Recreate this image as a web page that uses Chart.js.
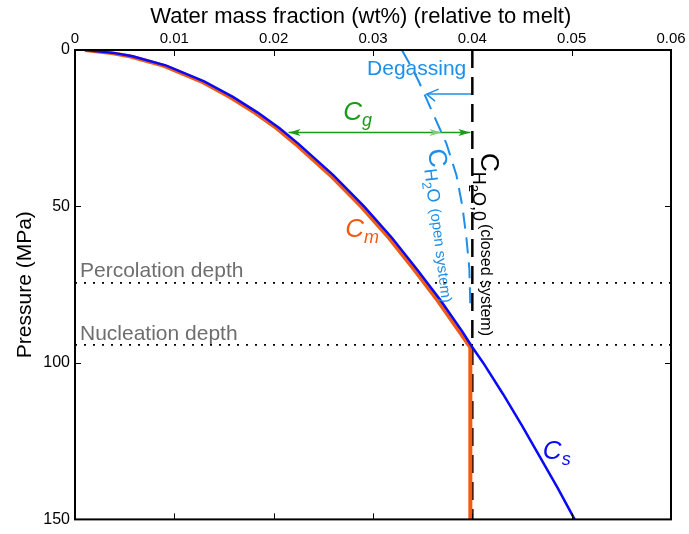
<!DOCTYPE html>
<html>
<head>
<meta charset="utf-8">
<script src="https://cdn.jsdelivr.net/npm/chart.js@4.4.1/dist/chart.umd.min.js"></script>
<style>
  html, body { margin: 0; padding: 0; background: #fff; }
  #wrap { width: 689px; height: 534px; }
</style>
</head>
<body>
<div id="wrap"><canvas id="chart" width="689" height="534"></canvas></div>
<script>
// Axis ticks
const xTickValues = [0, 0.01, 0.02, 0.03, 0.04, 0.05, 0.06];
const xTickLabels = ['0', '0.01', '0.02', '0.03', '0.04', '0.05', '0.06'];
const yTickValues = [0, 50, 100, 150];
const yTickLabels = ['0', '50', '100', '150'];

// Cs - solubility curve (pressure in MPa, water mass fraction)
const csPressure = [0, 1, 2, 5, 10, 15, 20, 25, 30, 40, 50, 60, 70, 80, 90, 95, 100, 110, 120, 130, 140, 150];
const csWater = [0.0010, 0.0040, 0.0058, 0.0092, 0.0130, 0.0159, 0.0184, 0.0206, 0.0225, 0.0260, 0.0291, 0.0319, 0.0344, 0.0368, 0.0390, 0.0400, 0.0411, 0.0431, 0.0450, 0.0468, 0.0486, 0.0503];

// Cm - melt water content
const cmPressure = [0, 1, 2, 5, 10, 15, 20, 25, 30, 40, 50, 60, 70, 80, 90, 95, 150];
const cmWater = [0.0010, 0.0037, 0.0055, 0.0089, 0.0127, 0.0156, 0.0181, 0.0203, 0.0222, 0.0257, 0.0288, 0.0316, 0.0341, 0.0365, 0.0387, 0.0398, 0.0398];

// C_H2O open system (dashed light blue)
const openPressure = [0, 5, 10, 15, 20, 25, 30, 40, 50, 60, 70, 82];
const openWater = [0.0329, 0.0338, 0.0346, 0.0353, 0.0360, 0.0367, 0.0374, 0.0384, 0.0390, 0.0394, 0.0397, 0.0398];

// C_H2O,0 closed system (dashed black)
const closedPressure = [0, 150];
const closedWater = [0.0400, 0.0400];

// Percolation and nucleation depths (MPa)
const depthPressure = [74.4, 94.2];
const depthWaterRange = [0, 0.06];

// Arrows
const cgArrowWater = [0.0215, 0.0398];
const cgArrowPressure = 26.4;
const cgInnerHead = 0.0369;
const degasArrowWater = [0.0400, 0.0354];
const degasArrowPressure = 14.1;

const FONT = '"Liberation Sans", Arial, sans-serif';
const BLUE = '#0a0af5';
const ORANGE = '#f05a14';
const LIGHTBLUE = '#1c8fea';
const GREEN = '#1a9a1a';
const GRAY = '#6e6e6e';

function toPoints(xs, ys) {
    return xs.map((x, i) => ({ x: x, y: Array.isArray(ys) ? ys[i] : ys }));
}

function lineSet(data, color, width, dash, order) {
    return {
        data: data,
        showLine: true,
        borderColor: color,
        borderWidth: width,
        borderDash: dash || [],
        pointRadius: 0,
        tension: 0,
        fill: false,
        order: order
    };
}

const datasets = [
    lineSet(toPoints(csWater, csPressure), BLUE, 2.5, null, 1),
    lineSet(toPoints(cmWater, cmPressure), ORANGE, 4, null, 2),
    lineSet(toPoints(closedWater, closedPressure), '#000', 2.5, [18, 9], 3),
    lineSet(toPoints(openWater, openPressure), LIGHTBLUE, 2, [16, 9], 4),
    lineSet(toPoints(depthWaterRange, depthPressure[0]), '#000', 1.8, [2, 7], 5),
    lineSet(toPoints(depthWaterRange, depthPressure[1]), '#000', 1.8, [2, 7], 6),
    lineSet(toPoints(cgArrowWater, cgArrowPressure), GREEN, 1.5, null, 7),
    lineSet(toPoints(degasArrowWater, degasArrowPressure), LIGHTBLUE, 1.5, null, 8)
];

function drawRich(ctx, x, y, angle, parts, color) {
    ctx.save();
    ctx.translate(x, y);
    ctx.rotate(angle * Math.PI / 180);
    ctx.fillStyle = color;
    ctx.textBaseline = 'alphabetic';
    ctx.textAlign = 'left';
    let cx = 0;
    parts.forEach(p => {
        ctx.font = (p.italic ? 'italic ' : '') + p.size + 'px ' + FONT;
        cx += (p.gap || 0);
        ctx.fillText(p.text, cx, p.dy || 0);
        cx += ctx.measureText(p.text).width;
    });
    ctx.restore();
}

function arrowHead(ctx, tipX, tipY, dir, color, filled) {
    // dir: +1 points right, -1 points left
    const len = 12, half = 3.5;
    ctx.save();
    ctx.fillStyle = color;
    ctx.strokeStyle = color;
    ctx.lineWidth = 1.5;
    ctx.beginPath();
    if (filled) {
        ctx.moveTo(tipX, tipY);
        ctx.lineTo(tipX - dir * len, tipY - half);
        ctx.lineTo(tipX - dir * (len - 3), tipY);
        ctx.lineTo(tipX - dir * len, tipY + half);
        ctx.closePath();
        ctx.fill();
    } else {
        ctx.moveTo(tipX - dir * len, tipY - 5);
        ctx.lineTo(tipX, tipY);
        ctx.lineTo(tipX - dir * len * 0.7, tipY + 7);
        ctx.stroke();
    }
    ctx.restore();
}

const annotations = {
    id: 'annotations',
    afterDatasetsDraw(chart) {
        const ctx = chart.ctx;
        const xs = chart.scales.x, ys = chart.scales.y;
        const px = v => xs.getPixelForValue(v);
        const py = v => ys.getPixelForValue(v);

        // arrow heads
        const ay = py(cgArrowPressure);
        arrowHead(ctx, px(cgArrowWater[0]), ay, -1, GREEN, true);
        arrowHead(ctx, px(cgArrowWater[1]), ay, 1, GREEN, true);
        arrowHead(ctx, px(cgInnerHead), ay, 1, '#7fcc7f', true);
        arrowHead(ctx, px(degasArrowWater[1]), py(degasArrowPressure), -1, LIGHTBLUE, false);

        // text labels
        drawRich(ctx, px(0.0294), py(8.0), 0, [{ text: 'Degassing', size: 21 }], LIGHTBLUE);
        drawRich(ctx, px(0.0005), py(72.4), 0, [{ text: 'Percolation depth', size: 21 }], GRAY);
        drawRich(ctx, px(0.0005), py(92.6), 0, [{ text: 'Nucleation depth', size: 21 }], GRAY);
        drawRich(ctx, px(0.0270), py(22.3), 0, [
            { text: 'C', size: 26, italic: true },
            { text: 'g', size: 18, italic: true, dy: 6 }
        ], GREEN);
        drawRich(ctx, px(0.0272), py(59.7), 0, [
            { text: 'C', size: 26, italic: true },
            { text: 'm', size: 18, italic: true, dy: 6 }
        ], ORANGE);
        drawRich(ctx, px(0.0471), py(130.8), 0, [
            { text: 'C', size: 26, italic: true },
            { text: 's', size: 18, italic: true, dy: 6 }
        ], BLUE);
        drawRich(ctx, px(0.03554), py(31.9), 83, [
            { text: 'C', size: 26 },
            { text: 'H', size: 18, dy: 6 },
            { text: '2', size: 13, dy: 10 },
            { text: 'O', size: 18, dy: 6 },
            { text: '(open system)', size: 15, dy: 5, gap: 6 }
        ], LIGHTBLUE);
        drawRich(ctx, px(0.04087), py(32.9), 90, [
            { text: 'C', size: 26 },
            { text: 'H', size: 18, dy: 8 },
            { text: '2', size: 13, dy: 12 },
            { text: 'O', size: 18, dy: 8 },
            { text: ',0', size: 18, dy: 8 },
            { text: '(closed system)', size: 16, dy: 0, gap: 3 }
        ], '#000');
    },
    afterDraw(chart) {
        const ctx = chart.ctx;
        const a = chart.chartArea;
        const xs = chart.scales.x, ys = chart.scales.y;
        ctx.save();
        ctx.strokeStyle = '#000';
        ctx.lineWidth = 2;
        ctx.strokeRect(a.left, a.top, a.right - a.left, a.bottom - a.top);
        ctx.lineWidth = 1;
        ctx.beginPath();
        xTickValues.slice(1, -1).forEach(v => {
            const x = Math.round(xs.getPixelForValue(v)) + 0.5;
            ctx.moveTo(x, a.top); ctx.lineTo(x, a.top + 6);
            ctx.moveTo(x, a.bottom); ctx.lineTo(x, a.bottom - 6);
        });
        yTickValues.slice(1, -1).forEach(v => {
            const y = Math.round(ys.getPixelForValue(v)) + 0.5;
            ctx.moveTo(a.left, y); ctx.lineTo(a.left + 6, y);
            ctx.moveTo(a.right, y); ctx.lineTo(a.right - 6, y);
        });
        ctx.stroke();
        ctx.restore();
    }
};

Chart.defaults.font.family = FONT;
Chart.defaults.color = '#000';

new Chart(document.getElementById('chart'), {
    type: 'scatter',
    data: { datasets: datasets },
    options: {
        responsive: false,
        animation: false,
        layout: { padding: { left: 0, right: 18, top: 0, bottom: 14 } },
        plugins: { legend: { display: false }, tooltip: { enabled: false } },
        scales: {
            x: {
                type: 'linear',
                position: 'top',
                min: 0,
                max: 0.06,
                afterBuildTicks: s => { s.ticks = xTickValues.map(v => ({ value: v })); },
                afterFit: s => { s.height = 50; },
                ticks: {
                    font: { size: 15 },
                    padding: 2,
                    maxRotation: 0,
                    callback: (v, i) => xTickLabels[i]
                },
                grid: { display: false, drawTicks: false },
                border: { display: false },
                title: {
                    display: true,
                    // trailing spaces nudge the centred title a little to the left
                    text: 'Water mass fraction (wt%) (relative to melt)    ',
                    font: { size: 22 },
                    padding: { top: 4, bottom: 0 }
                }
            },
            y: {
                type: 'linear',
                reverse: true,
                min: 0,
                max: 150,
                afterBuildTicks: s => { s.ticks = yTickValues.map(v => ({ value: v })); },
                afterFit: s => { s.width = 75; },
                ticks: {
                    font: { size: 16 },
                    padding: 5,
                    callback: (v, i) => yTickLabels[i]
                },
                grid: { display: false, drawTicks: false },
                border: { display: false },
                title: {
                    display: true,
                    text: 'Pressure (MPa)',
                    font: { size: 21 },
                    padding: { top: 13, bottom: 0 }
                }
            }
        }
    },
    plugins: [annotations]
});
</script>
</body>
</html>
